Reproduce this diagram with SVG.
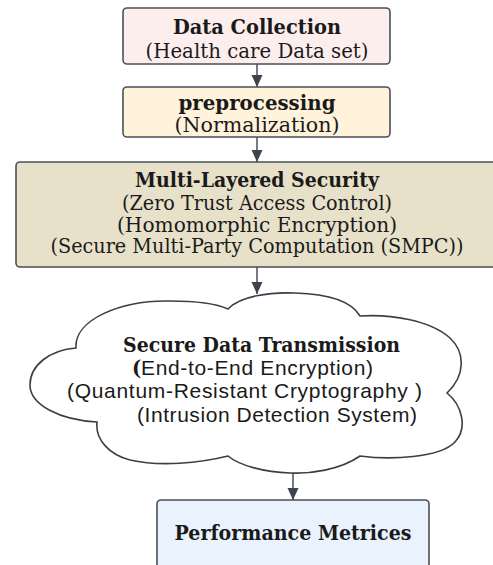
<svg xmlns="http://www.w3.org/2000/svg" width="493" height="565" viewBox="0 0 493 565">
<defs>
<marker id="arr" markerUnits="userSpaceOnUse" markerWidth="12" markerHeight="12" refX="12" refY="6" orient="auto">
<path d="M0,0.5 L12,6 L0,11.5 z" fill="#3d4450"/>
</marker>
<style>
.box{stroke:#4a4f57;stroke-width:1.6}
.ser{font-family:"DejaVu Serif","Liberation Serif",serif;font-size:19.5px;fill:#1a1a1a}
.b{font-weight:bold}
.sans{font-family:"Liberation Sans",Arial,sans-serif;font-size:21px;fill:#1a1a1a}
.mid{text-anchor:middle}
.edge{stroke:#3d4450;stroke-width:1.4;fill:none;marker-end:url(#arr)}
</style>
</defs>
<rect width="493" height="565" fill="#ffffff"/>
<g id="connectors">
<line class="edge" x1="257" y1="64" x2="257" y2="87"/>
<line class="edge" x1="257" y1="137" x2="257" y2="162"/>
<line class="edge" x1="257" y1="267" x2="257" y2="294"/>
<line class="edge" x1="293" y1="473" x2="293" y2="500"/>
</g>
<g id="data-collection">
<rect class="box" x="123" y="8" width="267" height="56" rx="4" fill="#fdeeee"/>
<text class="ser b mid" x="257" y="34" textLength="168" lengthAdjust="spacingAndGlyphs">Data Collection</text>
<text class="ser mid" x="257" y="58" textLength="223" lengthAdjust="spacingAndGlyphs">(Health care Data set)</text>
</g>
<g id="preprocessing">
<rect class="box" x="123" y="87" width="267" height="50" rx="4" fill="#fff3dc"/>
<text class="ser b mid" x="257" y="110" textLength="157" lengthAdjust="spacingAndGlyphs">preprocessing</text>
<text class="ser mid" x="257" y="132" textLength="165" lengthAdjust="spacingAndGlyphs">(Normalization)</text>
</g>
<g id="multi-layered-security">
<rect class="box" x="16" y="162" width="482" height="105" rx="4" fill="#e8e1c9"/>
<text class="ser b mid" x="257" y="187" textLength="244" lengthAdjust="spacingAndGlyphs">Multi-Layered Security</text>
<text class="ser mid" x="257" y="210" textLength="270" lengthAdjust="spacingAndGlyphs">(Zero Trust Access Control)</text>
<text class="ser mid" x="257" y="232" textLength="280" lengthAdjust="spacingAndGlyphs">(Homomorphic Encryption)</text>
<text class="ser mid" x="257" y="253" textLength="413" lengthAdjust="spacingAndGlyphs">(Secure Multi-Party Computation (SMPC))</text>
</g>
<g id="secure-data-transmission">
<path fill="#ffffff" stroke="#3a3f47" stroke-width="1.6" d="M76 348 C74 320 120 300 170 301 C195 301 215 303 228 309 C240 296 270 292 295 293 C330 294 352 302 360 316 C390 314 430 320 450 338 C465 352 466 375 447 393 C462 405 468 428 455 442 C440 458 390 460 360 456 C340 470 310 474 290 473 C265 472 240 466 228 456 C200 463 160 467 130 460 C110 455 95 440 97 422 C60 420 30 405 30 385 C30 365 50 350 76 348 Z"/>
<text class="ser b" x="123" y="352" textLength="277" lengthAdjust="spacingAndGlyphs">Secure Data Transmission</text>
<text x="132" y="375"><tspan class="ser b">(</tspan><tspan class="sans" x="141" textLength="232" lengthAdjust="spacing">End-to-End Encryption)</tspan></text>
<text class="sans" x="67" y="398" textLength="355" lengthAdjust="spacing">(Quantum-Resistant Cryptography )</text>
<text class="sans" x="137" y="422" textLength="280" lengthAdjust="spacing">(Intrusion Detection System)</text>
</g>
<g id="performance-metrices">
<rect class="box" x="157" y="500" width="272" height="80" rx="4" fill="#eaf3fd"/>
<text class="ser b mid" x="293" y="540" textLength="237" lengthAdjust="spacingAndGlyphs">Performance Metrices</text>
</g>
</svg>
